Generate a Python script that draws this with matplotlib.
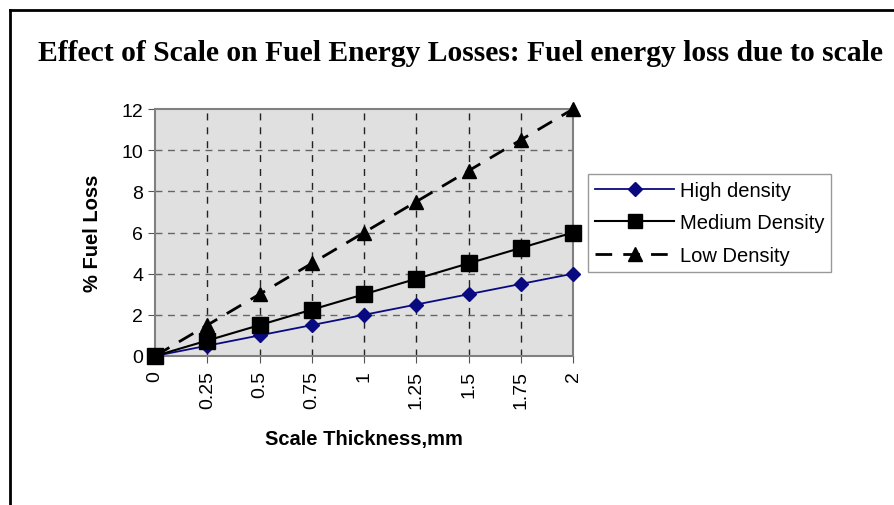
import matplotlib
matplotlib.use("Agg")
import matplotlib.pyplot as plt
from matplotlib.lines import Line2D

# data
thickness = [0, 0.25, 0.5, 0.75, 1, 1.25, 1.5, 1.75, 2]
x_labels = ['0', '0.25', '0.5', '0.75', '1', '1.25', '1.5', '1.75', '2']
high_density = [0, 0.5, 1, 1.5, 2, 2.5, 3, 3.5, 4]
medium_density = [0, 0.75, 1.5, 2.25, 3, 3.75, 4.5, 5.25, 6]
low_density = [0, 1.5, 3, 4.5, 6, 7.5, 9, 10.5, 12]
y_ticks = [0, 2, 4, 6, 8, 10, 12]

plt.rcParams['font.family'] = ['Liberation Sans', 'DejaVu Sans']

fig = plt.figure(figsize=(8.94, 5.06), dpi=100)

# outer frame (top and left only)
fig.add_artist(Line2D([0.011, 0.011], [0, 0.978], color='black', lw=2, transform=fig.transFigure))
fig.add_artist(Line2D([0.011, 1.0], [0.978, 0.978], color='black', lw=2, transform=fig.transFigure))

fig.text(0.042, 0.895, 'Effect of Scale on Fuel Energy Losses: Fuel energy loss due to scale',
         family='Liberation Serif', fontweight='bold', fontsize=21.3, va='center', ha='left')

ax = fig.add_axes([0.1734, 0.2945, 0.4676, 0.488])
ax.set_facecolor('#e0e0e0')

l_high, = ax.plot(thickness, high_density, color='#0a0a80', marker='D', markersize=7,
                  lw=1.3, label='High density', zorder=3, clip_on=False)
l_low, = ax.plot(thickness, low_density, color='black', marker='^', markersize=10,
                 lw=2, dashes=(6, 4), label='Low Density', zorder=4, clip_on=False)
l_med, = ax.plot(thickness, medium_density, color='black', marker='s', markersize=11,
                 lw=1.5, label='Medium Density', zorder=5, clip_on=False)

ax.set_xlim(0, 2)
ax.set_ylim(0, 12)
ax.set_xticks(thickness)
ax.set_xticklabels(x_labels, rotation=90)
ax.set_yticks(y_ticks)
ax.tick_params(axis='both', labelsize=14, length=5, color='#555555', direction='out')
ax.tick_params(axis='x', pad=5)

for x in thickness[1:-1]:
    ax.axvline(x, color='#222222', lw=1, dashes=(5, 5), zorder=1)
for y in y_ticks[1:-1]:
    ax.axhline(y, color='#666666', lw=1, dashes=(5, 4), zorder=1)

for s in ax.spines.values():
    s.set_color('#808080')
    s.set_linewidth(1.5)

ax.set_xlabel('Scale Thickness,mm', fontsize=14.5, fontweight='bold', labelpad=15)
ax.set_ylabel('% Fuel Loss', fontsize=14.5, fontweight='bold', labelpad=14)

fig.legend(handles=[l_high, l_med, l_low], loc='upper left',
           bbox_to_anchor=(0.658, 0.655), fontsize=14.5, frameon=True, fancybox=False,
           edgecolor='#808080', handlelength=3.9, handletextpad=0.3, borderpad=0.35,
           labelspacing=0.68, borderaxespad=0, markerscale=0.95)

fig.savefig('out.png', dpi=100)
